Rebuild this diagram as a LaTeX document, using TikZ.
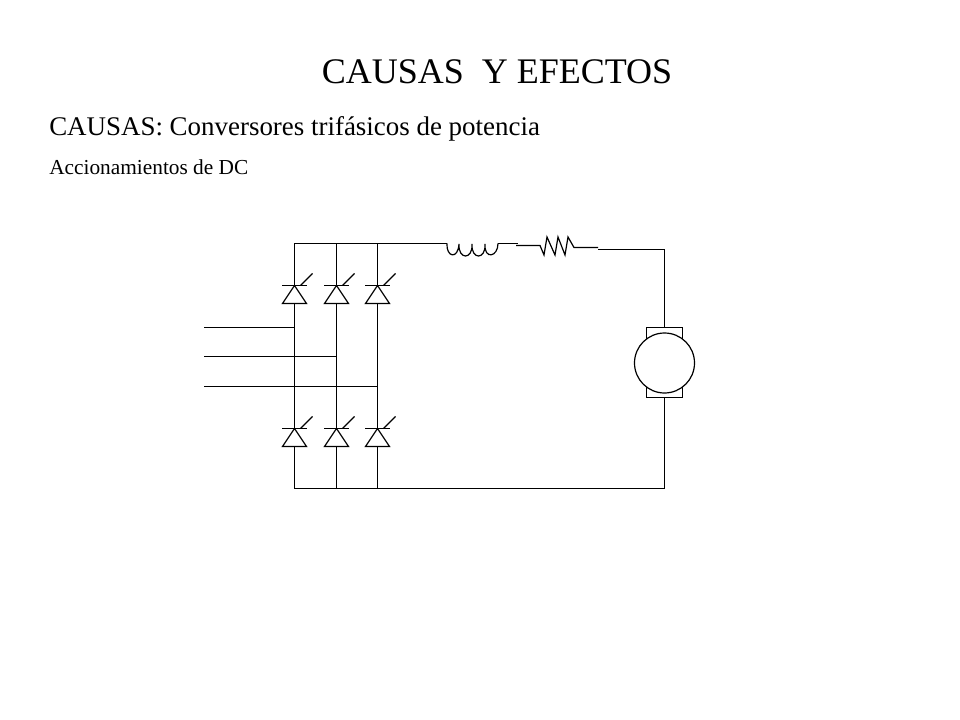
\documentclass[tikz,border=0pt]{standalone}
\usepackage{fontspec}
\setmainfont{Liberation Serif}
\tikzset{
  wire/.style={line width=0.9pt,black},
  pics/thyristor/.style={code={
    \coordinate (-k) at (0,0);
    \coordinate (-a) at (0,18);
    \draw[wire] (-12.5,0) -- (12,0);
    \draw[wire] (0,0) -- (12,18) -- (-12,18) -- cycle;
    \draw[wire] (6,0) -- (18,-12);
  }}
}
\begin{document}
\begin{tikzpicture}[x=0.75pt,y=-0.75pt]
    \useasboundingbox (0,0) rectangle (960,720);
    \def\xa{294.5}
    \def\xb{336.5}
    \def\xc{377.5}
    \node (title) at (497,72) {\fontsize{27}{30}\selectfont CAUSAS\ \ Y EFECTOS};
    \node [anchor=base west,inner sep=0pt] (cause) at (49,136) {\fontsize{20.2}{22}\selectfont CAUSAS: Conversores trifásicos de potencia};
    \node [anchor=base west,inner sep=0pt] (drive) at (49,175) {\fontsize{16}{18}\selectfont Accionamientos de DC};
    % bridge
    \pic (T1) at (\xa,285.5) {thyristor};
    \pic (T2) at (\xb,285.5) {thyristor};
    \pic (T3) at (\xc,285.5) {thyristor};
    \pic (B1) at (\xa,428.5) {thyristor};
    \pic (B2) at (\xb,428.5) {thyristor};
    \pic (B3) at (\xc,428.5) {thyristor};
    \coordinate (top1) at (\xa,243.5);
    \coordinate (top2) at (\xb,243.5);
    \coordinate (top3) at (\xc,243.5);
    \coordinate (bot1) at (\xa,488.5);
    \coordinate (bot2) at (\xb,488.5);
    \coordinate (bot3) at (\xc,488.5);
    \coordinate (in1) at (204,327.5);
    \coordinate (in2) at (204,356.5);
    \coordinate (in3) at (204,386.5);
    \coordinate (ph1) at (\xa,327.5);
    \coordinate (ph2) at (\xb,356.5);
    \coordinate (ph3) at (\xc,386.5);
    \foreach \i in {1,2,3} {
      \draw[wire] (top\i) -- (T\i-k);
      \draw[wire] (T\i-a) -- (B\i-k);
      \draw[wire] (B\i-a) -- (bot\i);
      \draw[wire] (in\i) -- (ph\i);
    }
    % inductor
    \coordinate (L1) at (447,243.5);
    \coordinate (L2) at (498,243.5);
    \draw[wire] (top1) -- (L1);
    \draw[wire] (L1) .. controls (446,257) and (458,260) .. (459,244)
      .. controls (458,260) and (473,260) .. (472,244)
      .. controls (471,260) and (486,260) .. (485,244)
      .. controls (484,260) and (498,257) .. (L2);
    % resistor
    \coordinate (L3) at (518,243.5);
    \coordinate (R1) at (516,245.5);
    \coordinate (R2) at (540,245.5);
    \coordinate (R3) at (574,247.5);
    \coordinate (R4) at (598,247.5);
    \draw[wire] (L2) -- (L3);
    \draw[wire] (R1) -- (R2) -- (544,255) -- (547,237) -- (555,255) -- (558,237)
      -- (565,255) -- (568,237) -- (R3) -- (R4);
    % motor
    \node [draw,wire,minimum width=26.6pt,minimum height=53pt,inner sep=0pt] (brush) at (664.5,362.5) {};
    \node [draw,wire,fill=white,circle,minimum size=45pt,inner sep=0pt] (motor) at (664.5,363) {};
    \coordinate (R5) at (598,249.5);
    \coordinate (C1) at (664.5,249.5);
    \coordinate (C2) at (664.5,488.5);
    \draw[wire] (R5) -- (C1) -- (brush.north);
    \draw[wire] (brush.south) -- (C2) -- (bot1);
\end{tikzpicture}
\end{document}
